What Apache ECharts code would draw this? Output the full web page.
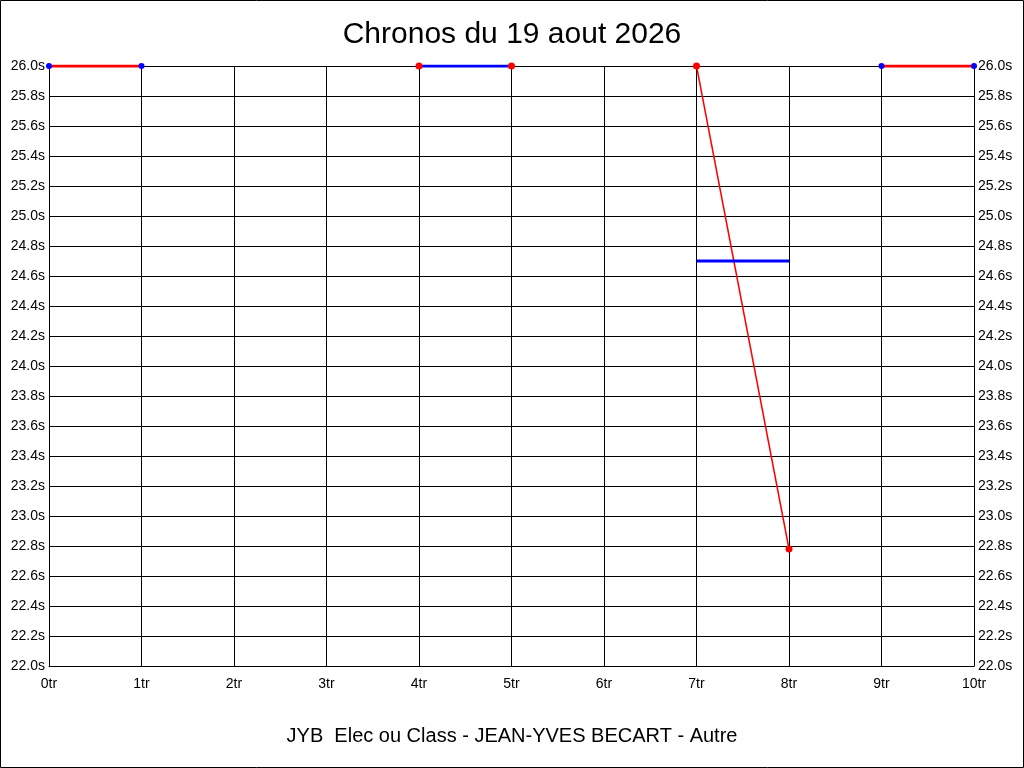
<!DOCTYPE html>
<html>
<head>
<meta charset="utf-8">
<script src="https://cdn.jsdelivr.net/npm/echarts@6/dist/echarts.min.js"></script>
<style>
html, body { margin: 0; padding: 0; background: #fff; }
#chart { width: 1024px; height: 768px; }
</style>
</head>
<body>
<div id="chart"></div>
<script>
// lap times (seconds), one small array per drawn segment
var laps = [0, 1, 2, 3, 4, 5, 6, 7, 8, 9, 10];
var seg0to1 = [[0, 26.0], [1, 26.0]];
var seg4to5 = [[4, 26.0], [5, 26.0]];
var seg7to8 = [[7, 26.0], [8, 22.78]];
var avg7to8 = [[7, 24.7], [8, 24.7]];
var seg9to10 = [[9, 26.0], [10, 26.0]];

var titleText = 'Chronos du 19 aout 2026';
var footerText = 'JYB  Elec ou Class - JEAN-YVES BECART - Autre';
var yMin = 22.0, yMax = 26.0, yStep = 0.2;

var myChart = echarts.init(document.getElementById('chart'));

var labelFont = { color: '#000', fontFamily: 'Liberation Sans', fontSize: 14 };

function yAxisDef(pos) {
    return {
        type: 'value',
        position: pos,
        min: yMin,
        max: yMax,
        interval: yStep,
        axisLine: { show: true, lineStyle: { color: '#000', width: 1 } },
        axisTick: { show: false },
        splitLine: { show: pos == 'left', lineStyle: { color: '#000', width: 1 } },
        axisLabel: Object.assign({
            margin: 4,
            formatter: function (v) { return v.toFixed(1) + 's'; }
        }, labelFont)
    };
}

function seg(data, lineColor, width, dotColor, dotSize, z) {
    return {
        type: 'line',
        data: data,
        z: z,
        silent: true,
        animation: false,
        lineStyle: { color: lineColor, width: width },
        showSymbol: dotSize > 0,
        symbol: 'circle',
        symbolSize: dotSize,
        itemStyle: { color: dotColor },
        emphasis: { disabled: true }
    };
}

var option = {
    backgroundColor: '#fff',
    animation: false,
    title: [
        {
            text: titleText,
            left: 'center',
            top: 15,
            textStyle: { color: '#000', fontFamily: 'Liberation Sans', fontSize: 30, fontWeight: 'normal' }
        },
        {
            text: footerText,
            left: 'center',
            top: 721,
            textStyle: { color: '#000', fontFamily: 'Liberation Sans', fontSize: 20, fontWeight: 'normal' }
        }
    ],
    graphic: [{
        type: 'rect',
        shape: { x: 0.5, y: 0.5, width: 1023, height: 767 },
        style: { fill: 'none', stroke: '#000', lineWidth: 1 },
        silent: true
    }],
    grid: { left: 49, right: 50, top: 66, bottom: 102 },
    xAxis: {
        type: 'value',
        min: laps[0],
        max: laps[laps.length - 1],
        interval: 1,
        axisLine: { show: true, lineStyle: { color: '#000', width: 1 } },
        axisTick: { show: false },
        splitLine: { show: true, lineStyle: { color: '#000', width: 1 } },
        axisLabel: Object.assign({ margin: 11, formatter: '{value}tr' }, labelFont)
    },
    yAxis: [yAxisDef('left'), yAxisDef('right')],
    series: [
        seg(seg7to8, '#ff0000', 1.5, '#ff0000', 7, 3),
        seg(avg7to8, '#0000ff', 3, '#0000ff', 0, 4),
        seg(seg4to5, '#0000ff', 3, '#ff0000', 7, 4),
        seg(seg0to1, '#ff0000', 3, '#0000ff', 6, 5),
        seg(seg9to10, '#ff0000', 3, '#0000ff', 6, 5)
    ]
};
myChart.setOption(option);
</script>
</body>
</html>
